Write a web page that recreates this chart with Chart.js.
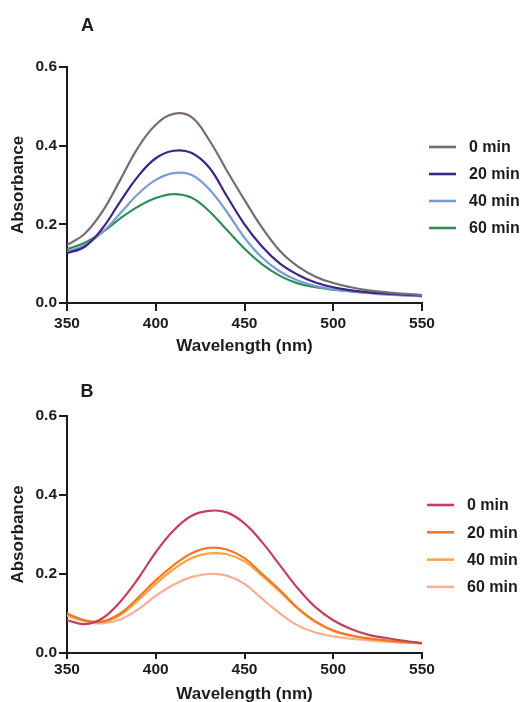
<!DOCTYPE html>
<html><head><meta charset="utf-8">
<script src="https://cdn.jsdelivr.net/npm/chart.js@4.4.1/dist/chart.umd.min.js"></script>
<style>
html,body{margin:0;padding:0;background:#fff;overflow:hidden;width:521px;height:702px;}
.wrap{position:absolute;left:0;width:521px;height:360px;}
#wa{top:0;}
#wb{top:350px;}
canvas{display:block;}
</style></head><body>
<div class="wrap" id="wa"><canvas id="ca" width="521" height="360"></canvas></div>
<div class="wrap" id="wb"><canvas id="cb" width="521" height="360"></canvas></div>
<script>
// ---- data ----
const wavelengths = [350,360,370,380,390,400,410,420,430,440,450,460,470,480,490,500,510,520,530,540,550];
const seriesLabels = ['0 min','20 min','40 min','60 min'];
const xTickValues = [350,400,450,500,550];
const yTickValues = [0.0,0.2,0.4,0.6];

const panelA_0min  = [0.147,0.176,0.233,0.313,0.395,0.453,0.481,0.473,0.415,0.337,0.262,0.191,0.132,0.093,0.067,0.051,0.040,0.032,0.027,0.023,0.020];
const panelA_20min = [0.127,0.143,0.190,0.258,0.322,0.368,0.387,0.382,0.345,0.272,0.200,0.143,0.100,0.072,0.052,0.040,0.032,0.027,0.024,0.021,0.019];
const panelA_40min = [0.130,0.147,0.180,0.228,0.277,0.313,0.330,0.326,0.290,0.232,0.166,0.115,0.080,0.057,0.043,0.035,0.029,0.025,0.021,0.019,0.017];
const panelA_60min = [0.137,0.153,0.180,0.215,0.245,0.267,0.277,0.268,0.234,0.186,0.138,0.098,0.069,0.050,0.040,0.034,0.030,0.027,0.024,0.022,0.020];

const panelB_0min  = [0.083,0.073,0.088,0.130,0.188,0.255,0.310,0.347,0.360,0.356,0.328,0.280,0.222,0.164,0.116,0.083,0.061,0.046,0.038,0.031,0.025];
const panelB_20min = [0.100,0.083,0.080,0.100,0.140,0.184,0.222,0.252,0.266,0.262,0.240,0.200,0.159,0.114,0.080,0.057,0.045,0.037,0.032,0.028,0.025];
const panelB_40min = [0.097,0.082,0.078,0.096,0.133,0.175,0.212,0.240,0.252,0.250,0.232,0.195,0.155,0.112,0.078,0.056,0.043,0.035,0.030,0.026,0.024];
const panelB_60min = [0.094,0.080,0.075,0.085,0.110,0.145,0.173,0.192,0.200,0.196,0.175,0.137,0.100,0.070,0.052,0.042,0.036,0.032,0.029,0.026,0.025];

const colorsA = ['#776a78','#3c2586','#7b9bd5','#2f8d55'];
const colorsB = ['#c2415c','#f07826','#f8a448','#f9ad92'];

const INK = '#1c1c1c';
const FONT = '"Liberation Sans", Arial, sans-serif';

const panelPlugin = {
  id: 'panelDecor',
  afterDraw(chart, args, o) {
    const ctx = chart.ctx;
    ctx.save();
    chart.data.datasets.forEach((ds, i) => {
      const y = o.y0 + i * o.dy;
      ctx.strokeStyle = ds.borderColor;
      ctx.lineWidth = 2.6;
      ctx.beginPath();
      ctx.moveTo(o.x0, y);
      ctx.lineTo(o.x0 + 27, y);
      ctx.stroke();
      ctx.fillStyle = INK;
      ctx.font = 'bold 16px ' + FONT;
      ctx.textBaseline = 'middle';
      ctx.textAlign = 'left';
      ctx.fillText(ds.label, o.x0 + 40, y + 1);
    });
    ctx.font = 'bold 18px ' + FONT;
    ctx.textAlign = 'center';
    ctx.textBaseline = 'middle';
    ctx.fillStyle = INK;
    ctx.fillText(o.letter, o.lx, o.ly);
    ctx.restore();
  }
};

function pts(arr) { return wavelengths.map((w, i) => ({x: w, y: arr[i]})); }

function makeChart(id, series, colors, cfg) {
  const datasets = series.map((arr, i) => ({
    label: seriesLabels[i],
    data: pts(arr),
    borderColor: colors[i],
    backgroundColor: colors[i],
    borderWidth: 2.2,
    pointRadius: 0,
    tension: 0.4,
    fill: false
  }));
  return new Chart(document.getElementById(id), {
    type: 'line',
    data: { datasets },
    plugins: [panelPlugin],
    options: {
      responsive: false,
      animation: false,
      devicePixelRatio: 1,
      layout: { padding: { left: 0, top: cfg.top, right: 99, bottom: 0 } },
      plugins: {
        legend: { display: false },
        tooltip: { enabled: false },
        panelDecor: cfg.decor
      },
      scales: {
        x: {
          type: 'linear',
          min: 350, max: 550,
          afterBuildTicks: s => { s.ticks = xTickValues.map(v => ({value: v})); },
          afterFit: s => { s.height = 57; },
          grid: { display: true, drawOnChartArea: false, drawTicks: true, tickLength: cfg.xTickLen, tickWidth: 2, tickColor: INK, color: INK, lineWidth: 2 },
          border: { display: true, color: INK, width: 2 },
          ticks: { color: INK, padding: cfg.xPad, maxRotation: 0, font: { family: FONT, size: 15.5, weight: 'bold' } },
          title: { display: true, text: 'Wavelength (nm)', color: INK, padding: { top: 0, bottom: cfg.xTitlePad }, font: { family: FONT, size: 17, weight: 'bold' } }
        },
        y: {
          min: 0, max: 0.6,
          afterBuildTicks: s => { s.ticks = yTickValues.map(v => ({value: v})); },
          afterFit: s => { s.width = 67; },
          grid: { display: true, drawOnChartArea: false, drawTicks: true, tickLength: 8, tickWidth: 2, tickColor: INK, color: INK, lineWidth: 2 },
          border: { display: true, color: INK, width: 2 },
          ticks: { color: INK, padding: 2, font: { family: FONT, size: 15.5, weight: 'bold' }, callback: v => Number(v).toFixed(1) },
          title: { display: true, text: 'Absorbance', color: INK, padding: { top: 8, bottom: 0 }, font: { family: FONT, size: 17, weight: 'bold' } }
        }
      }
    }
  });
}

makeChart('ca', [panelA_0min, panelA_20min, panelA_40min, panelA_60min], colorsA, {
  top: 67, xTickLen: 8, xPad: 3, xTitlePad: 3,
  decor: { x0: 429, y0: 147, dy: 27, letter: 'A', lx: 87.5, ly: 26 }
});
makeChart('cb', [panelB_0min, panelB_20min, panelB_40min, panelB_60min], colorsB, {
  top: 66, xTickLen: 6, xPad: 1, xTitlePad: 5,
  decor: { x0: 427, y0: 155, dy: 27.3, letter: 'B', lx: 87, ly: 42.5 }
});
</script>
</body></html>
